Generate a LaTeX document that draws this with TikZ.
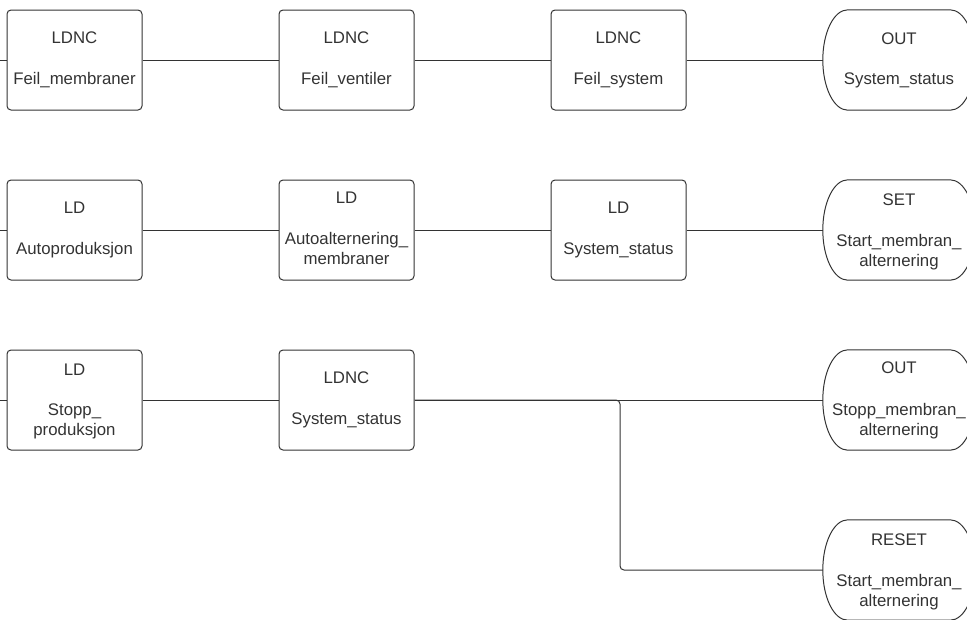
\documentclass[tikz,border=0pt]{standalone}
\usepackage{fontspec}
\setmainfont{Liberation Sans}
\definecolor{ink}{HTML}{333333}
\begin{document}
\begin{tikzpicture}[x=1pt,y=-1pt,
  block/.style={draw=ink, line width=1pt, rounded corners=4pt,
    minimum width=135pt, minimum height=100pt, inner sep=0pt},
  coilbox/.style={minimum width=152pt, minimum height=100pt, inner sep=0pt},
  lbl/.style={text=ink, font=\fontsize{16.8}{20}\selectfont, inner sep=0pt, anchor=base},
  wire/.style={draw=ink, line width=1pt}]
\useasboundingbox (0,0) rectangle (967,619);
\clip (0,0) rectangle (967,619);

% contact blocks
\node[block] (a1) at (74.5,60) {};
\node[block] (a2) at (346.5,60) {};
\node[block] (a3) at (618.5,60) {};
\node[block] (b1) at (74.5,230) {};
\node[block] (b2) at (346.5,230) {};
\node[block] (b3) at (618.5,230) {};
\node[block] (c1) at (74.5,400) {};
\node[block] (c2) at (346.5,400) {};

% coil frames (drawn below as rounded-end outlines)
\node[coilbox] (q1) at (899,60) {};
\node[coilbox] (q2) at (899,230) {};
\node[coilbox] (q3) at (899,400) {};
\node[coilbox] (q4) at (899,570) {};

\foreach \n in {q1,q2,q3,q4}{
  \draw[wire] ([xshift=25pt]\n.north west) -- ([xshift=-25pt]\n.north east)
    .. controls ([xshift=-11pt]\n.north east) and ([yshift=27.5pt]\n.east) .. (\n.east)
    .. controls ([yshift=-27.5pt]\n.east) and ([xshift=-11pt]\n.south east) .. ([xshift=-25pt]\n.south east)
    -- ([xshift=25pt]\n.south west)
    .. controls ([xshift=11pt]\n.south west) and ([yshift=-27.5pt]\n.west) .. (\n.west)
    .. controls ([yshift=27.5pt]\n.west) and ([xshift=11pt]\n.north west) .. cycle;
}

% rung 1
\node[lbl] (a1t) at (74.5,43.5) {LDNC};
\node[lbl] (a1n) at (74.5,84) {Feil\_membraner};
\node[lbl] (a2t) at (346.5,43.5) {LDNC};
\node[lbl] (a2n) at (346.5,84) {Feil\_ventiler};
\node[lbl] (a3t) at (618.5,43.5) {LDNC};
\node[lbl] (a3n) at (618.5,84) {Feil\_system};
\node[lbl] (q1t) at (899,44) {OUT};
\node[lbl] (q1n) at (899,84.5) {System\_status};

% rung 2
\node[lbl] (b1t) at (74.5,213.5) {LD};
\node[lbl] (b1n) at (74.5,254) {Autoproduksjon};
\node[lbl] (b2t) at (346.5,203.5) {LD};
\node[lbl] (b2n) at (346.5,244) {Autoalternering\_};
\node[lbl] (b2m) at (346.5,264) {membraner};
\node[lbl] (b3t) at (618.5,213.5) {LD};
\node[lbl] (b3n) at (618.5,254) {System\_status};
\node[lbl] (q2t) at (899,205) {SET};
\node[lbl] (q2n) at (899,246.5) {Start\_membran\_};
\node[lbl] (q2m) at (899,266.5) {alternering};

% rung 3
\node[lbl] (c1t) at (74.5,375) {LD};
\node[lbl] (c1n) at (74.5,415) {Stopp\_};
\node[lbl] (c1m) at (74.5,435.5) {produksjon};
\node[lbl] (c2t) at (346.5,383.5) {LDNC};
\node[lbl] (c2n) at (346.5,424) {System\_status};
\node[lbl] (q3t) at (899,373.5) {OUT};
\node[lbl] (q3n) at (899,415) {Stopp\_membran\_};
\node[lbl] (q3m) at (899,435) {alternering};
\node[lbl] (q4t) at (899,545) {RESET};
\node[lbl] (q4n) at (899,586.5) {Start\_membran\_};
\node[lbl] (q4m) at (899,606.5) {alternering};

% power rail stubs
\coordinate (s1) at (0,60);
\coordinate (s2) at (0,230);
\coordinate (s3) at (0,400);
\coordinate (tap) at (620,400);

% connections
\draw[wire] (s1) -- (a1) -- (a2) -- (a3) -- (q1.west);
\draw[wire] (s2) -- (b1) -- (b2) -- (b3) -- (q2.west);
\draw[wire] (s3) -- (c1) -- (c2) -- (q3.west);
\draw[wire, rounded corners=4pt] (c2.east) -- (tap) |- (q4.west);
\end{tikzpicture}
\end{document}
